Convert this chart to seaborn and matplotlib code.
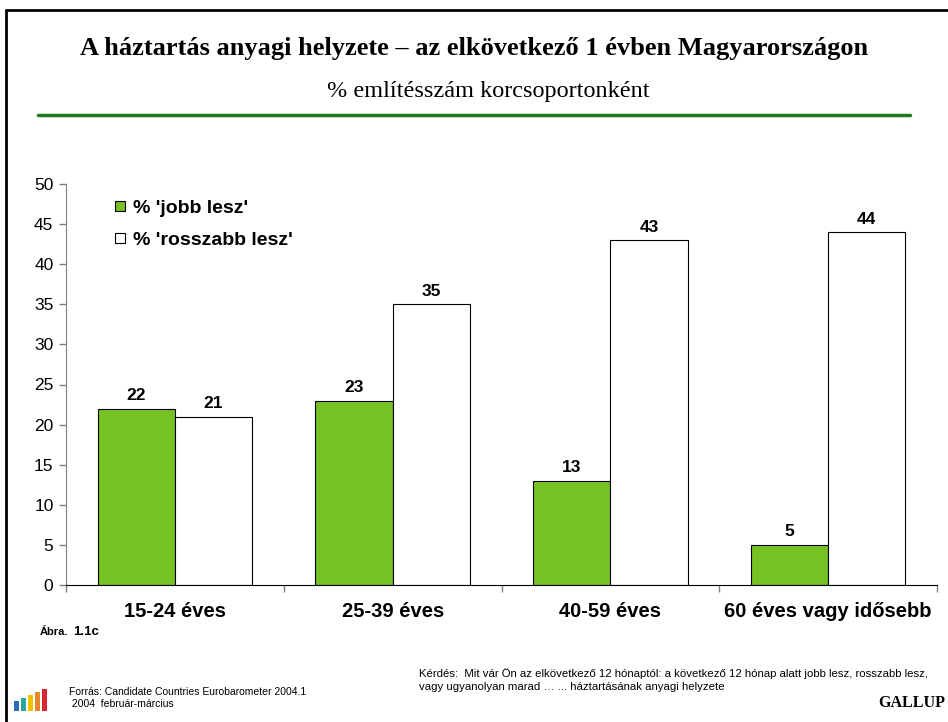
import matplotlib
matplotlib.use("Agg")
import matplotlib.pyplot as plt
from matplotlib.lines import Line2D
from matplotlib.patches import Rectangle
import seaborn as sns
import pandas as pd

# data
groups = ["15-24 éves", "25-39 éves", "40-59 éves", "60 éves vagy idősebb"]
series = ["% 'jobb lesz'", "% 'rosszabb lesz'"]
jobb = [22, 23, 13, 5]
rosszabb = [21, 35, 43, 44]
y_ticks = list(range(0, 51, 5))

df = pd.DataFrame({
    "group": groups * 2,
    "series": [series[0]] * len(groups) + [series[1]] * len(groups),
    "value": jobb + rosszabb,
})

sns.set_style("white")
plt.rcParams["font.family"] = ["Liberation Sans", "DejaVu Sans"]
plt.rcParams["text.color"] = "black"
plt.rcParams["xtick.color"] = "black"
plt.rcParams["ytick.color"] = "black"

fig = plt.figure(figsize=(9.48, 7.22), dpi=100)
ax = fig.add_axes([66 / 948, 1 - 585 / 722, 871 / 948, 401 / 722])

palette = {series[0]: "#76C123", series[1]: "#FFFFFF"}
sns.barplot(data=df, x="group", y="value", hue="series", palette=palette,
            width=0.71, gap=0, edgecolor="black", linewidth=0.8,
            legend=False, ax=ax, saturation=1)

for cont in ax.containers:
    ax.bar_label(cont, fmt="%d", padding=4, fontsize=12.5, fontweight="bold",
                 color="black")

ax.set_ylim(0, 50)
ax.set_xlim(-0.5, len(groups) - 0.5)
ax.set_yticks(y_ticks)
ax.set_xticks([i - 0.5 for i in range(len(groups) + 1)])
ax.set_xticklabels([])
ax.set_xticks(range(len(groups)), minor=True)
ax.set_xticklabels(groups, minor=True, fontsize=14.5, fontweight="bold")
ax.tick_params(axis="x", which="minor", bottom=True, length=0, pad=12)
ax.tick_params(axis="x", which="major", bottom=True, length=5, direction="out",
               color="#808080", width=1)
ax.tick_params(axis="y", left=True, length=5, direction="out", color="#808080",
               width=1, labelsize=12.5, pad=4, labelcolor="black")
ax.set_xlabel("")
ax.set_ylabel("")
for side in ["top", "right"]:
    ax.spines[side].set_visible(False)
ax.spines["left"].set_color("#808080")
ax.spines["bottom"].set_color("black")

handles = [Line2D([], [], marker="s", linestyle="", markersize=7.5,
                  markerfacecolor=palette[s], markeredgecolor="black",
                  markeredgewidth=0.8) for s in series]
leg = ax.legend(handles, series, loc="upper left", bbox_to_anchor=(0.033, 1.005),
                frameon=False, handlelength=0.8, handletextpad=0.25,
                labelspacing=0.75, prop={"weight": "bold", "size": 14})

# titles and rule
fig.text(0.5, 1 - 48 / 722, "A háztartás anyagi helyzete – az elkövetkező 1 évben Magyarországon",
         ha="center", va="center", fontsize=19, fontweight="bold",
         family="Liberation Serif")
fig.text(488 / 948, 1 - 92 / 722, "% említésszám korcsoportonként",
         ha="center", va="center", fontsize=17.5, family="Liberation Serif")
fig.add_artist(Line2D([38 / 948, 910 / 948], [1 - 115 / 722] * 2,
                      color="#1F7A1F", linewidth=2.5))

# frame
fig.add_artist(Line2D([6 / 948, 6 / 948], [0, 1 - 10 / 722], color="black", linewidth=2))
fig.add_artist(Line2D([6 / 948, 1], [1 - 10 / 722] * 2, color="black", linewidth=2))

# footer
fig.text(40 / 948, 1 - 632 / 722, "Ábra.", fontsize=8, fontweight="bold", va="center")
fig.text(73 / 948, 1 - 632 / 722, "1.1c", fontsize=9.5, fontweight="bold", va="center")
fig.text(69 / 948, 1 - 698 / 722, "Forrás: Candidate Countries Eurobarometer 2004.1\n 2004  február-március",
         fontsize=7.5, va="center", linespacing=1.3)
fig.text(419 / 948, 1 - 680 / 722,
         "Kérdés:  Mit vár Ön az elkövetkező 12 hónaptól: a következő 12 hónap alatt jobb lesz, rosszabb lesz,\n"
         "vagy ugyanolyan marad … ... háztartásának anyagi helyzete",
         fontsize=8.2, va="center", linespacing=1.3)
fig.text(945 / 948, 1 - 703 / 722, "GALLUP", ha="right", va="center", fontsize=11.5,
         fontweight="bold", family="Liberation Serif")

# small eurobarometer logo
logo_cols = ["#2E6DB4", "#2AA7A0", "#F2C200", "#E8852A", "#D8262E"]
logo_h = [10, 13, 16, 19, 22]
for i, (c, h) in enumerate(zip(logo_cols, logo_h)):
    fig.add_artist(Rectangle(((14 + i * 7) / 948, 1 - 711 / 722), 5 / 948, h / 722,
                             color=c, lw=0))

fig.savefig("out.png", dpi=100)
